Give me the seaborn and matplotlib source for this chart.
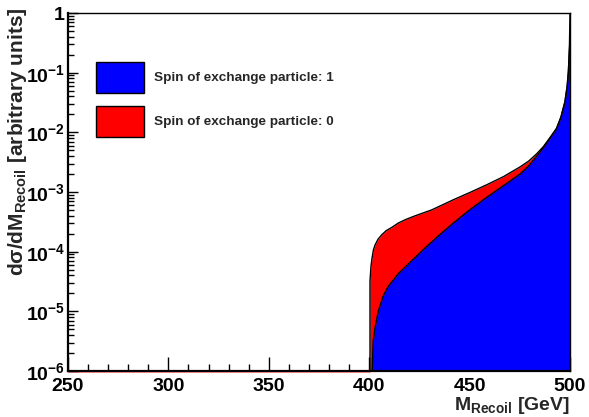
import numpy as np
import matplotlib
matplotlib.use("Agg")
import matplotlib.pyplot as plt
import matplotlib.transforms as mtransforms
from matplotlib.patches import Patch
from matplotlib.ticker import FixedLocator, NullFormatter
import seaborn as sns

# Recoil mass spectra (GeV) and differential cross sections (arbitrary units)
mass_spin0 = [400.4, 400.9, 401.4, 402.1, 402.9, 404.4, 406.2, 408.4, 411.4,
              414.5, 418.3, 422.8, 431.1, 441.9, 450.0, 458.5, 467.0, 475.1,
              479.5, 483.4, 486.7, 490.0, 493.3, 495.5, 497.5, 498.6, 499.2,
              499.7, 500.0]
xsec_spin0 = [3.24e-5, 5.75e-5, 7.76e-5, 1.07e-4, 1.29e-4, 1.62e-4, 1.91e-4,
              2.24e-4, 2.57e-4, 3.02e-4, 3.47e-4, 3.98e-4, 5.01e-4, 7.41e-4,
              9.77e-4, 1.32e-3, 1.82e-3, 2.63e-3, 3.31e-3, 4.37e-3, 5.75e-3,
              8.13e-3, 1.17e-2, 1.82e-2, 3.31e-2, 6.03e-2, 0.105, 0.251, 1.0]

mass_spin1 = [401.5, 402.0, 402.9, 404.5, 407.0, 409.5, 414.5, 421.2, 428.0,
              435.0, 441.9, 450.0, 458.5, 467.0, 475.1, 479.5, 483.4, 486.7,
              490.0, 493.3, 495.5, 497.5, 498.6, 499.2, 499.7, 500.0]
xsec_spin1 = [1.0e-6, 3.16e-6, 5.25e-6, 1.0e-5, 1.82e-5, 2.63e-5, 4.27e-5,
              7.08e-5, 1.17e-4, 1.91e-4, 3.02e-4, 5.01e-4, 8.13e-4, 1.29e-3,
              2.0e-3, 2.75e-3, 3.98e-3, 5.50e-3, 7.94e-3, 1.15e-2, 1.78e-2,
              3.24e-2, 5.89e-2, 0.102, 0.245, 0.35]

labels = ["Spin of exchange particle: 1", "Spin of exchange particle: 0"]
colors = ["#0000ff", "#ff0000"]

x_range = (250, 500)
y_range = (1e-6, 1.0)
x_major = [250, 300, 350, 400, 450, 500]
y_major = [1e-6, 1e-5, 1e-4, 1e-3, 1e-2, 1e-1, 1.0]
y_labels = [r"$10^{-6}$", r"$10^{-5}$", r"$10^{-4}$", r"$10^{-3}$",
            r"$10^{-2}$", r"$10^{-1}$", r"$1$"]

sns.set_theme(style="ticks")
plt.rcParams["font.family"] = ["Liberation Sans", "DejaVu Sans"]
plt.rcParams["font.weight"] = "bold"
plt.rcParams["mathtext.fontset"] = "custom"
plt.rcParams["mathtext.rm"] = "Liberation Sans:bold"
plt.rcParams["mathtext.it"] = "Liberation Sans:bold"
plt.rcParams["mathtext.bf"] = "Liberation Sans:bold"
plt.rcParams["mathtext.default"] = "rm"

fig = plt.figure(figsize=(5.89, 4.17), dpi=100)
ax = fig.add_axes([68 / 589, 1 - 371 / 417, (570 - 68) / 589, (371 - 13) / 417])


def closed(mass, xsec):
    """Prepend the baseline so the histogram rises from the lower edge."""
    m = np.r_[mass[0], mass]
    v = np.r_[y_range[0], xsec]
    return m, v


m0, v0 = closed(mass_spin0, xsec_spin0)
m1, v1 = closed(mass_spin1, xsec_spin1)

ax.fill_between(m0, y_range[0], v0, color=colors[1], lw=0, zorder=1)
ax.fill_between(m1, y_range[0], v1, color=colors[0], lw=0, zorder=2)
sns.lineplot(x=m0, y=v0, sort=False, estimator=None, color="black", lw=1.0,
             ax=ax, zorder=3)
sns.lineplot(x=m1, y=v1, sort=False, estimator=None, color="black", lw=1.0,
             ax=ax, zorder=3)

# empty bins of the spin-0 histogram sit on the lower frame edge
below = mtransforms.offset_copy(ax.transData, fig=fig, x=0, y=-1.0, units="dots")
ax.plot([x_range[0], mass_spin0[0]], [y_range[0], y_range[0]], color="#ff6060",
        lw=0.5, transform=below, clip_on=False, zorder=0)

ax.set_yscale("log")
ax.set_xlim(*x_range)
ax.set_ylim(*y_range)

ax.xaxis.set_major_locator(FixedLocator(x_major))
ax.xaxis.set_minor_locator(FixedLocator(np.arange(250, 501, 10)))
ax.set_xticklabels([str(v) for v in x_major])
ax.yaxis.set_major_locator(FixedLocator(y_major))
ax.set_yticklabels(y_labels)
minor_y = [k * 10.0 ** e for e in range(-6, 0) for k in range(2, 10)]
ax.yaxis.set_minor_locator(FixedLocator(minor_y))
ax.yaxis.set_minor_formatter(NullFormatter())

ax.tick_params(axis="both", which="both", direction="in", top=False, right=False,
               colors="black", width=1.0)
ax.tick_params(axis="x", which="major", length=10, labelsize=14, pad=5)
ax.tick_params(axis="x", which="minor", length=5)
ax.tick_params(axis="y", which="major", length=7, labelsize=14, pad=2)
ax.tick_params(axis="y", which="minor", length=4)
for lab in ax.get_xticklabels() + ax.get_yticklabels():
    lab.set_fontweight("bold")

for side in ["left", "bottom"]:
    ax.spines[side].set_linewidth(1.6)
    ax.spines[side].set_color("black")
for side in ["top", "right"]:
    ax.spines[side].set_linewidth(1.0)
    ax.spines[side].set_color("black")
    ax.spines[side].set_visible(True)
ax.set_facecolor("white")
ax.set_xlabel("")
ax.set_ylabel("")

fig.text(570 / 589, 1 - 410 / 417, r"M$_{\mathrm{Recoil}}$ [GeV]", ha="right",
         va="baseline", fontsize=14, fontweight="bold")
fig.text(18 / 589, 1 - 7 / 417, r"d$\sigma$/dM$_{\mathrm{Recoil}}$ [arbitrary units]",
         rotation=90, ha="center", va="top", fontsize=15, fontweight="bold")

handles = [Patch(facecolor=c, edgecolor="black", lw=1.0) for c in colors]
fs = 9.7
em = fs * 100 / 72
ax.legend(handles, labels, loc="upper left",
          bbox_to_anchor=(96 / 589, 1 - 62 / 417), bbox_transform=fig.transFigure,
          frameon=False, borderpad=0, borderaxespad=0,
          handlelength=48 / em, handleheight=3.16,
          labelspacing=13 / em, handletextpad=10 / em,
          prop={"weight": "bold", "size": fs})

fig.savefig("out.png", dpi=100, facecolor="white")
